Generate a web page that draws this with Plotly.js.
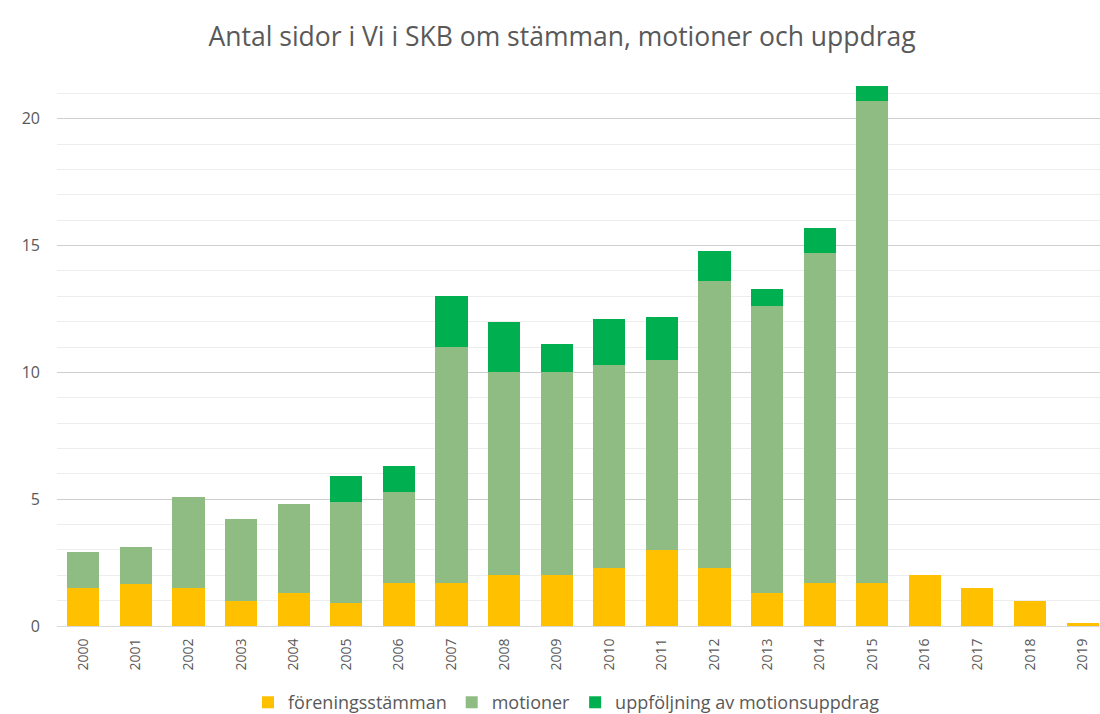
<!DOCTYPE html>
<html>
<head>
<meta charset="utf-8">
<script src="https://cdn.plot.ly/plotly-3.0.1.min.js"></script>
<style>html,body{margin:0;padding:0;background:#fff;}#chart{width:1100px;height:714px;}</style>
</head>
<body>
<div id="chart"></div>
<script>
var years = ["2000","2001","2002","2003","2004","2005","2006","2007","2008","2009","2010","2011","2012","2013","2014","2015","2016","2017","2018","2019"];
var foreningsstamman = [1.5,1.65,1.5,1.0,1.3,0.9,1.7,1.7,2.0,2.0,2.3,3.0,2.3,1.3,1.7,1.7,2.0,1.5,1.0,0.1];
var motioner = [1.4,1.45,3.6,3.2,3.5,4.0,3.6,9.3,8.0,8.0,8.0,7.5,11.3,11.3,13.0,19.0,0,0,0,0];
var uppfoljning = [0,0,0,0,0,1.0,1.0,2.0,2.0,1.1,1.8,1.7,1.2,0.7,1.0,0.6,0,0,0,0];
var seriesNames = ["föreningsstämman","motioner","uppföljning av motionsuppdrag"];
var yTicks = [0,5,10,15,20];

var FONT = "Open Sans, sans-serif";
var traces = [
  {type:"bar", name:seriesNames[0], x:years, y:foreningsstamman, marker:{color:"#ffc000"}},
  {type:"bar", name:seriesNames[1], x:years, y:motioner, marker:{color:"#8fbc82"}},
  {type:"bar", name:seriesNames[2], x:years, y:uppfoljning, marker:{color:"#00b050"}}
];

var layout = {
  width:1100, height:714,
  paper_bgcolor:"#ffffff", plot_bgcolor:"#ffffff",
  barmode:"stack", bargap:0.39,
  margin:{l:57, r:0, t:68, b:88},
  font:{family:FONT, color:"#595959"},
  title:{text:"Antal sidor i Vi i SKB om stämman, motioner och uppdrag", font:{family:FONT, size:26.5, color:"#595959"}, xref:"container", x:0.511, xanchor:"center", yref:"container", y:0.948, yanchor:"middle"},
  xaxis:{type:"category", range:[-0.5,19.33], tickangle:-90, tickfont:{size:14, color:"#595959"}, showgrid:false, showline:false, ticks:"outside", ticklen:6, tickcolor:"rgba(0,0,0,0)", fixedrange:true},
  yaxis:{range:[0,22], tickvals:yTicks, tickfont:{size:16, color:"#595959"}, showgrid:true, gridcolor:"#cfcfcf", gridwidth:1.3,
         minor:{dtick:1, tick0:0, showgrid:true, gridcolor:"#ededed", gridwidth:1},
         zeroline:true, zerolinecolor:"#d9d9d9", showline:false, ticklabelstandoff:16, fixedrange:true},
  legend:{orientation:"h", x:0.515, xref:"container", xanchor:"center", y:0.016, yref:"container", yanchor:"middle", font:{size:18, color:"#595959"}, traceorder:"normal", itemwidth:30},
  showlegend:true
};
Plotly.newPlot("chart", traces, layout, {displayModeBar:false, staticPlot:true});
</script>
</body>
</html>
